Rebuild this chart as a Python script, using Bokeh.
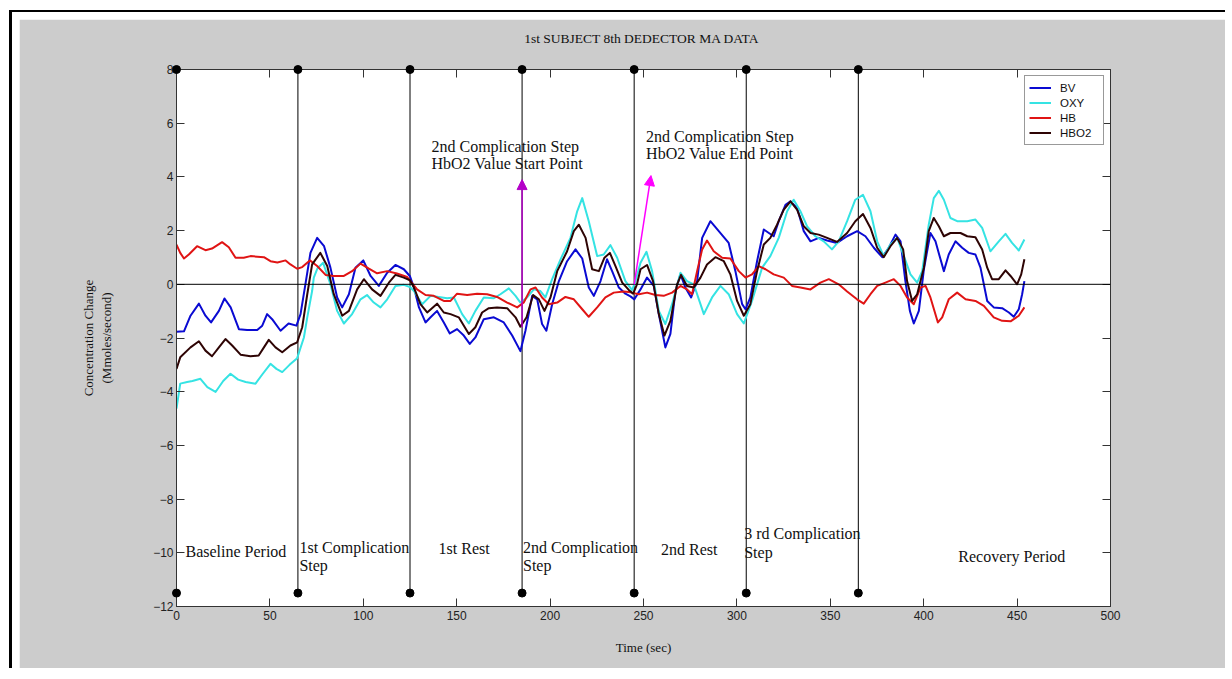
from bokeh.plotting import figure
from bokeh.layouts import column
from bokeh.models import (Range1d, LinearAxis, Legend, LegendItem, Arrow, NormalHead,
                          Span, SingleIntervalTicker)
from bokeh.core.properties import value
from bokeh.embed import file_html
from bokeh.resources import INLINE

# ---------------- data ----------------
bv_t = [0, 4, 7.5, 12, 15.5, 18.5, 22.7, 25.7, 29, 33.4, 37.8, 43.2, 45.9, 48.5, 51.2, 55.7, 60, 64.2,
        66.4, 69, 71.7, 75.3, 79, 82.4, 86, 88.7, 92.3, 95.8, 100, 103.9, 108.3, 112.8, 117.2, 121.7, 125,
        127.1, 129.8, 133.3, 136, 139.5, 143.1, 146.3, 150.2, 153.8, 157, 160, 164.5, 169.9, 175.2, 179.7,
        184.1, 186.8, 190.4, 193.1, 195.7, 198, 201.1, 204.7, 209.1, 213.6, 217.2, 220.7, 223.4, 227, 230.5,
        233.2, 236.8, 240.3, 243, 245.1, 248.4, 251.9, 255.5, 258.2, 261.7, 264.4, 267.1, 269.8, 272.4,
        275.5, 278.7, 281.4, 285.8, 290.3, 295.6, 299.2, 302.8, 304.6, 307.2, 310.8, 314.4, 317.1, 319.7,
        322.4, 326, 328.7, 332.2, 335.8, 339.4, 343.8, 348.3, 353.6, 359, 364.4, 368.8, 373.3, 377.8, 381.3,
        384.9, 387.6, 390.2, 392.6, 394.7, 397.4, 400.1, 403.6, 406.3, 409, 410.8, 413.4, 417, 420.6, 424.1,
        427.7, 430.4, 434, 437.5, 442, 445.6, 448.2, 450.9, 452.7, 453.9]
bv = [-1.77, -1.75, -1.17, -0.72, -1.17, -1.42, -0.99, -0.53, -0.86, -1.67, -1.70, -1.70, -1.54, -1.11,
      -1.30, -1.73, -1.46, -1.54, -1.11, 0.0, 1.17, 1.73, 1.42, 0.62, -0.49, -0.86, -0.37, 0.62, 0.89, 0.31,
      -0.06, 0.43, 0.72, 0.56, 0.30, -0.12, -0.86, -1.42, -1.23, -0.99, -1.42, -1.83, -1.67, -1.91, -2.22,
      -1.98, -1.30, -1.23, -1.42, -1.91, -2.49, -1.73, -0.43, -0.56, -1.48, -1.73, -0.74, 0.12, 0.86, 1.30,
      0.96, -0.12, -0.43, 0.12, 0.93, 0.49, -0.12, -0.35, -0.45, -0.56, -0.19, 0.25, -0.06, -1.11, -2.35,
      -1.85, -0.25, 0.37, -0.12, -0.49, 0.12, 1.73, 2.35, 1.98, 1.54, 0.49, -0.74, -0.93, -0.49, 0.86, 2.04,
      1.91, 1.79, 2.35, 2.96, 3.09, 2.84, 1.98, 1.60, 1.73, 1.63, 1.54, 1.79, 1.98, 1.79, 1.36, 1.01, 1.36,
      1.85, 1.60, 0.12, -0.99, -1.46, -0.99, 0.56, 1.91, 1.60, 0.93, 0.49, 1.11, 1.60, 1.36, 1.17, 1.11,
      0.62, -0.62, -0.86, -0.89, -1.05, -1.21, -0.93, -0.37, 0.12]

oxy_t = [0, 2, 5.7, 8.5, 12.8, 16.5, 20.9, 25, 28.9, 33, 37, 42.3, 46, 50.3, 53.5, 56.6, 60.5, 64.6, 68.2,
         70, 72.6, 73.5, 75.5, 78.5, 82.4, 86, 89.6, 94, 98.5, 102, 105.6, 109.2, 112.8, 117.2, 121.7, 125,
         127.1, 131.5, 136, 140.4, 144.9, 148.5, 152.9, 156.5, 160, 164.5, 169.9, 173.4, 177.9, 181.5, 184.1,
         187.7, 191.3, 194.8, 197.5, 201.1, 205.6, 210.9, 214.5, 217.2, 220.7, 225.2, 228.7, 232.3, 235.9,
         240.3, 243.9, 245.7, 248.4, 251.6, 254.6, 258.2, 261.7, 265.3, 269.8, 273.3, 276.9, 280.5, 282.3,
         286.7, 291.2, 295.6, 300.1, 303.7, 308.1, 313.5, 317.9, 322.4, 326.9, 330.4, 334, 337.6, 342, 346.5,
         350.9, 354.5, 359, 363.4, 367.5, 371.5, 375.1, 378.6, 382.2, 385.8, 389.4, 392.9, 396.5, 399.2,
         402.7, 405.4, 408.1, 410.8, 414.3, 417.9, 423.3, 427.7, 431.3, 435.7, 440.2, 443.8, 447.3, 450.9,
         453.9]
oxy = [-4.63, -3.70, -3.64, -3.60, -3.52, -3.83, -4.01, -3.60, -3.33, -3.55, -3.64, -3.70, -3.35, -2.96,
       -3.15, -3.27, -3.00, -2.75, -1.98, -1.23, -0.25, 0.25, 0.60, 0.80, 0.0, -0.99, -1.46, -1.11, -0.56,
       -0.40, -0.68, -0.86, -0.56, -0.06, -0.02, -0.10, -0.25, -0.74, -0.43, -0.47, -0.52, -0.49, -1.11,
       -1.46, -0.99, -0.49, -0.52, -0.37, -0.15, -0.43, -0.68, -0.49, -0.19, -0.25, -0.49, 0.19, 0.93, 1.73,
       2.72, 3.21, 2.35, 1.05, 1.11, 1.46, 0.99, 0.12, -0.22, 0.12, 0.80, 1.21, 0.49, -0.99, -1.48, -0.74,
       0.43, 0.12, 0.0, -0.74, -1.11, -0.49, -0.06, -0.37, -1.11, -1.46, -0.62, 0.62, 1.05, 1.73, 2.72, 3.15,
       2.72, 2.16, 1.79, 1.60, 1.30, 1.60, 2.35, 3.15, 3.33, 2.72, 1.60, 1.05, 1.48, 1.73, 1.05, 0.37, 0.06,
       0.49, 2.22, 3.21, 3.48, 3.15, 2.47, 2.35, 2.35, 2.41, 2.10, 1.23, 1.60, 1.88, 1.54, 1.26, 1.67]

hb_t = [0, 2, 4, 6.6, 11, 15.5, 19, 24.4, 28, 31.6, 36, 39.6, 46.8, 50.3, 54, 58.4, 61, 64.6, 67.3, 71.4,
        75.3, 79.8, 84.2, 89.6, 94, 98.5, 103, 107.4, 112.8, 118, 123.5, 128.8, 133.3, 137.7, 143.1, 146.7,
        150.2, 155.6, 160.9, 166.3, 171.6, 177, 182.4, 185.9, 189.5, 192.2, 195.7, 199.3, 203.8, 208.2,
        212.7, 217.2, 220.7, 225.2, 229.6, 234.1, 239.5, 243, 247.5, 251.9, 256.4, 260.8, 265.3, 269.8,
        273.3, 276, 278.7, 281.4, 284, 287.6, 292.1, 296.5, 301, 304.6, 308.1, 311.7, 315.3, 319.7, 325.1,
        329.5, 334, 339.4, 344.7, 349.2, 354.5, 359, 364.3, 367.9, 371.5, 375.1, 379.5, 384, 387.6, 391.1,
        394.7, 398.3, 401, 403.6, 407.6, 409.9, 413.4, 417.9, 422.4, 427.7, 432.2, 437.5, 442, 446.5, 450.9,
        453.9]
hb = [1.48, 1.17, 0.96, 1.11, 1.42, 1.27, 1.33, 1.57, 1.38, 0.99, 0.99, 1.05, 1.01, 0.86, 0.81, 0.89, 0.74,
      0.58, 0.64, 0.89, 0.68, 0.35, 0.31, 0.31, 0.49, 0.77, 0.58, 0.41, 0.49, 0.40, 0.27, -0.19, -0.40, -0.43,
      -0.62, -0.62, -0.35, -0.40, -0.35, -0.37, -0.47, -0.68, -0.86, -0.68, -0.19, -0.12, -0.49, -0.74, -0.68,
      -0.47, -0.56, -0.93, -1.21, -0.86, -0.49, -0.31, -0.27, -0.30, -0.37, -0.31, -0.40, -0.43, -0.31, -0.06,
      -0.19, -0.37, 0.49, 1.30, 1.63, 1.23, 0.99, 0.96, 0.49, 0.25, 0.37, 0.68, 0.56, 0.37, 0.25, -0.06,
      -0.12, -0.19, 0.06, 0.19, 0.0, -0.27, -0.56, -0.72, -0.37, -0.06, 0.06, 0.19, -0.06, -0.49, -0.74,
      -0.12, -0.06, -0.49, -1.42, -1.23, -0.56, -0.31, -0.56, -0.62, -0.80, -1.23, -1.36, -1.38, -1.17, -0.86]

hbo2_t = [0, 2, 7.5, 12, 15.5, 19, 22.7, 26.2, 29.8, 34.3, 39.6, 44, 46.8, 49.4, 53, 56.6, 61, 64.6, 67.3,
          70, 72.6, 77, 80.7, 84.2, 88.7, 92.3, 96.7, 100.3, 104.7, 109.2, 113.7, 117.2, 121.7, 125, 127.1,
          130.6, 134.2, 139.5, 143.1, 146.7, 151.1, 156.5, 160, 163.6, 167.2, 171.6, 177, 181.5, 184.1,
          187.4, 190.9, 194, 197, 200.2, 203.8, 209.1, 212.7, 215.4, 219, 222.5, 226.1, 229.1, 232, 235,
          238.6, 242, 244.5, 246.5, 248.4, 251.9, 255.1, 258.2, 261.2, 264.4, 268, 270.1, 273.3, 276.9,
          280.5, 284, 288.5, 293, 296.5, 300.1, 303.7, 307.2, 310.8, 314.4, 317.9, 321.5, 325.1, 328.7,
          332.2, 335.8, 339.4, 343.8, 348.3, 353.6, 359, 363.4, 367.5, 371.5, 375.1, 378.6, 382.2, 385.8,
          389, 391.1, 393.8, 396.5, 400.1, 402.7, 405.4, 408.1, 410.8, 414.3, 419.7, 423.3, 427.7, 431.3,
          434, 436.6, 440.2, 443.8, 446.5, 450, 452.2, 453.9]
hbo2 = [-3.15, -2.72, -2.35, -2.12, -2.47, -2.68, -2.35, -2.04, -2.28, -2.62, -2.68, -2.65, -2.35, -2.07,
        -2.35, -2.53, -2.28, -2.16, -1.60, -0.37, 0.74, 1.17, 0.68, -0.37, -1.17, -0.99, -0.19, 0.19, -0.19,
        -0.43, 0.06, 0.35, 0.25, 0.15, -0.12, -0.74, -1.05, -0.72, -1.05, -1.11, -1.23, -1.85, -1.60, -1.05,
        -0.89, -0.86, -0.89, -1.23, -1.58, -1.23, -0.40, -0.56, -0.99, -0.49, 0.49, 1.23, 1.98, 2.22, 1.73,
        0.56, 0.49, 0.99, 1.17, 0.68, 0.06, -0.20, -0.35, 0.0, 0.56, 0.72, 0.12, -1.11, -1.91, -1.36, 0.0,
        0.35, -0.06, -0.12, 0.25, 0.74, 1.01, 0.86, 0.37, -0.62, -1.17, -0.74, 0.49, 1.48, 1.73, 2.22, 2.78,
        3.09, 2.78, 2.16, 1.91, 1.85, 1.73, 1.58, 1.91, 2.35, 2.62, 2.10, 1.36, 1.01, 1.42, 1.73, 1.30, 0.12,
        -0.62, -0.37, 0.62, 1.98, 2.47, 2.16, 1.79, 1.91, 1.91, 1.79, 1.75, 1.30, 0.62, 0.19, 0.19, 0.52,
        0.31, 0.0, 0.37, 0.93]

series_names = ["BV", "OXY", "HB", "HBO2"]
series_colors = ["#0a0ad2", "#35e3e3", "#e01414", "#2e0404"]

chart_title = "1st SUBJECT  8th DEDECTOR MA DATA"

# period boundaries (sec) and marker levels
boundaries = [0, 65, 125, 185, 245, 305, 365]
marker_levels = [-11.5, 8]

# period labels: (x, y, text)
period_labels = [
    (4.8, -9.97, "Baseline Period"),
    (65.8, -9.79, "1st Complication"),
    (65.8, -10.47, "Step"),
    (140.3, -9.83, "1st Rest"),
    (185.5, -9.79, "2nd Complication"),
    (185.5, -10.47, "Step"),
    (259.4, -9.87, "2nd Rest"),
    (303.9, -9.28, "3 rd Complication"),
    (303.9, -9.98, "Step"),
    (418.5, -10.14, "Recovery Period"),
    (136.5, 5.13, "2nd Complication Step"),
    (136.5, 4.50, "HbO2 Value Start Point"),
    (251.4, 5.50, "2nd Complication Step"),
    (251.4, 4.87, "HbO2 Value End Point"),
]

# arrows: (x_start, y_start, x_end, y_end)
arrows = [(185, -1.6, 185, 3.9), (245, 0.0, 254, 4.05)]
arrow_colors = ["#b400c8", "#ff00ff"]

# ---------------- figure ----------------
SERIF = "Liberation Serif"
SANS = "Liberation Sans"

p = figure(width=1206, height=649, x_range=Range1d(0, 500), y_range=Range1d(-12, 8),
           output_backend="svg", toolbar_location=None,
           min_border_left=157, min_border_right=115, min_border_top=50, min_border_bottom=62,
           border_fill_color="#cccccc", background_fill_color="white")
p.outline_line_color = "#333333"
p.grid.visible = False

p.xaxis.ticker = SingleIntervalTicker(interval=50, num_minor_ticks=0)
p.yaxis.ticker = SingleIntervalTicker(interval=2, num_minor_ticks=0)


def style_axis(ax, show_labels=True):
    ax.major_tick_in = 8
    ax.major_tick_out = 0
    ax.minor_tick_in = 0
    ax.minor_tick_out = 0
    ax.axis_line_color = "#333333"
    ax.major_tick_line_color = "#333333"
    ax.major_label_text_font = SANS
    ax.major_label_text_font_size = "12px"
    ax.major_label_text_color = "#222222" if show_labels else None
    if not show_labels:
        ax.major_label_standoff = 0
    ax.axis_label_text_font = SERIF
    ax.axis_label_text_font_size = "13px"
    ax.axis_label_text_font_style = "normal"
    ax.axis_label_text_color = "#111111"


top_ax = LinearAxis(ticker=SingleIntervalTicker(interval=50, num_minor_ticks=0))
right_ax = LinearAxis(ticker=SingleIntervalTicker(interval=2, num_minor_ticks=0))
for ax, show in ((p.xaxis[0], True), (p.yaxis[0], True), (top_ax, False), (right_ax, False)):
    style_axis(ax, show)

p.xaxis.major_label_standoff = 4
p.yaxis.major_label_standoff = 3
p.xaxis.axis_label = "Time (sec)"
p.yaxis.axis_label = "Concentration Change\n(Mmoles/second)"
p.xaxis.axis_label_standoff = 17
p.yaxis.axis_label_standoff = 36

# chart title drawn as the top axis label (centred over the frame)
top_ax.axis_label = chart_title
top_ax.axis_label_text_font_size = "13.5px"
top_ax.axis_label_standoff = 24
p.add_layout(top_ax, "above")
p.add_layout(right_ax, "right")

# zero line
p.add_layout(Span(location=0, dimension="width", line_color="black", line_width=1))

# period boundary lines with end dots
n = len(boundaries)
p.segment(x0=boundaries, y0=[marker_levels[0]] * n, x1=boundaries, y1=[marker_levels[1]] * n,
          line_color="black", line_width=1)
p.scatter(x=boundaries * 2, y=[marker_levels[0]] * n + [marker_levels[1]] * n,
          size=8, color="black", level="overlay")

# series
renderers = []
for t, v, c in zip([bv_t, oxy_t, hb_t, hbo2_t], [bv, oxy, hb, hbo2], series_colors):
    r = p.line(t, v, line_color=c, line_width=2, line_join="round")
    renderers.append(r)

legend = Legend(items=[LegendItem(label=nm, renderers=[r]) for nm, r in zip(series_names, renderers)],
                location="top_right")
legend.margin = 6
legend.padding = 4
legend.spacing = 0
legend.label_height = 15
legend.glyph_height = 15
legend.glyph_width = 22
legend.label_width = 39
legend.label_standoff = 9
legend.border_line_color = "#333333"
legend.border_line_width = 1
legend.background_fill_alpha = 1
legend.label_text_font = SANS
legend.label_text_font_size = "11.5px"
legend.label_text_color = "#111111"
p.add_layout(legend)

# arrows
for (xs, ys, xe, ye), c in zip(arrows, arrow_colors):
    p.add_layout(Arrow(end=NormalHead(size=10, fill_color=c, line_color=c),
                       x_start=xs, y_start=ys, x_end=xe, y_end=ye,
                       line_color=c, line_width=1.5))

# annotations
p.text(x=[a[0] for a in period_labels], y=[a[1] for a in period_labels],
       text=[a[2] for a in period_labels], text_font=value(SERIF), text_font_size="16px",
       text_baseline="middle", text_align="left", text_color="#111111")

root = column(p, margin=(10, 0, 0, 9),
              styles={"border-top": "2px solid black", "border-left": "3px solid black",
                      "padding-top": "7px", "padding-left": "7px"})

open("out.html", "w").write(file_html(root, INLINE))
